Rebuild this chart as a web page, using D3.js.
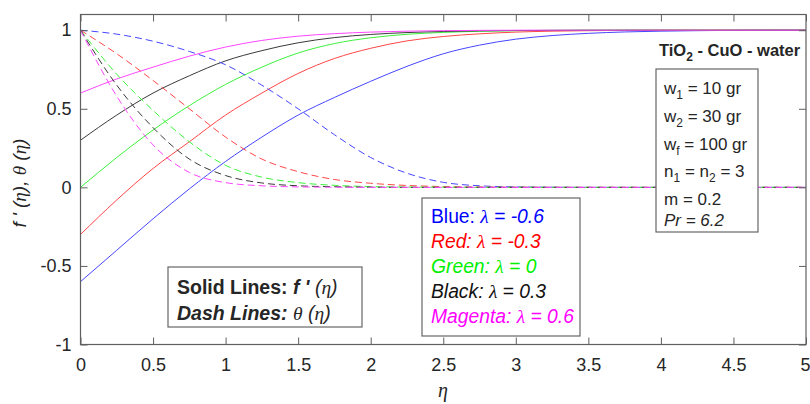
<!DOCTYPE html>
<html>
<head>
<meta charset="utf-8">
<script src="https://cdn.jsdelivr.net/npm/d3@7"></script>
<style>
  body { margin: 0; background: #fff; }
  text { font-family: "Liberation Sans", Arial, sans-serif; fill: #262626; }
  .serif { font-family: "Liberation Serif", "Times New Roman", serif; }
</style>
</head>
<body>
<svg id="chart" width="810" height="404"></svg>
<script>
/* ===============================
   Data
================================ */

const eta = [0, 0.25, 0.5, 0.75, 1, 1.25, 1.5, 1.75, 2, 2.25, 2.5,
             2.75, 3, 3.25, 3.5, 3.75, 4, 4.25, 4.5, 4.75, 5];

// f'(eta), solid lines
const fpBlue    = [-0.6, -0.4, -0.2, -0.01, 0.165, 0.32, 0.46, 0.572, 0.675, 0.77, 0.85, 0.905, 0.943, 0.966, 0.98, 0.989, 0.994, 0.997, 0.999, 1, 1];
const fpRed     = [-0.3, -0.08, 0.12, 0.29, 0.46, 0.6, 0.725, 0.82, 0.885, 0.932, 0.96, 0.977, 0.988, 0.994, 0.997, 0.999, 1, 1, 1, 1, 1];
const fpGreen   = [0, 0.19, 0.365, 0.52, 0.655, 0.765, 0.855, 0.915, 0.952, 0.974, 0.986, 0.993, 0.997, 0.999, 1, 1, 1, 1, 1, 1, 1];
const fpBlack   = [0.3, 0.46, 0.6, 0.71, 0.805, 0.87, 0.92, 0.953, 0.973, 0.985, 0.992, 0.996, 0.998, 0.999, 1, 1, 1, 1, 1, 1, 1];
const fpMagenta = [0.6, 0.69, 0.765, 0.835, 0.893, 0.935, 0.962, 0.978, 0.988, 0.994, 0.997, 0.999, 1, 1, 1, 1, 1, 1, 1, 1, 1];

// theta(eta), dashed lines
const thBlue    = [1, 0.975, 0.93, 0.865, 0.78, 0.65, 0.5, 0.335, 0.19, 0.09, 0.032, 0.01, 0.003, 0.001, 0, 0, 0, 0, 0, 0, 0];
const thRed     = [1, 0.85, 0.68, 0.5, 0.32, 0.18, 0.1, 0.05, 0.026, 0.012, 0.005, 0.002, 0.001, 0, 0, 0, 0, 0, 0, 0, 0];
const thGreen   = [1, 0.72, 0.49, 0.29, 0.14, 0.065, 0.03, 0.013, 0.005, 0.002, 0.001, 0, 0, 0, 0, 0, 0, 0, 0, 0, 0];
const thBlack   = [1, 0.65, 0.38, 0.18, 0.075, 0.028, 0.01, 0.004, 0.001, 0, 0, 0, 0, 0, 0, 0, 0, 0, 0, 0, 0];
const thMagenta = [1, 0.58, 0.27, 0.095, 0.03, 0.01, 0.003, 0.001, 0, 0, 0, 0, 0, 0, 0, 0, 0, 0, 0, 0, 0];

const colorNames = ["Blue", "Red", "Green", "Black", "Magenta"];
const lambdas    = ["-0.6", "-0.3", "0", "0.3", "0.6"];
const lineColors = ["#4646ff", "#ff4646", "#3cf03c", "#3a3a3a", "#ff46ff"];
const textColors = ["#0000ff", "#ff0000", "#00f000", "#111111", "#ff00ff"];

const xTicks = [0, 0.5, 1, 1.5, 2, 2.5, 3, 3.5, 4, 4.5, 5];
const yTicks = [-1, -0.5, 0, 0.5, 1];

const params = [
  { base: "w", sub: "1", rest: " = 10 gr" },
  { base: "w", sub: "2", rest: " = 30 gr" },
  { base: "w", sub: "f", rest: " = 100 gr" },
  { base: "n", sub: "1", rest: " = n", sub2: "2", rest2: " = 3" },
  { base: "m = 0.2" },
  { base: "Pr", rest: " = 6.2", italic: true }
];

const solidSeries = [fpBlue, fpRed, fpGreen, fpBlack, fpMagenta];
const dashSeries  = [thBlue, thRed, thGreen, thBlack, thMagenta];

/* ===============================
   Layout
================================ */

const plot = { left: 80.5, right: 806, top: 14.5, bottom: 344.5 };

const svg = d3.select("#chart");

const x = d3.scaleLinear().domain([0, 5]).range([plot.left, plot.right]);
const y = d3.scaleLinear().domain([-1, 1.1]).range([plot.bottom, plot.top]);

const fmt = d => String(d);   // plain hyphen minus, no trailing zeros

svg.append("defs").append("clipPath").attr("id", "clip")
  .append("rect")
  .attr("x", plot.left).attr("y", plot.top)
  .attr("width", plot.right - plot.left)
  .attr("height", plot.bottom - plot.top);

/* -------- Lines -------- */

const line = d3.line()
  .x((d, i) => x(eta[i]))
  .y(d => y(d))
  .curve(d3.curveMonotoneX);

const lines = svg.append("g").attr("clip-path", "url(#clip)");

solidSeries.forEach((s, i) => {
  lines.append("path")
    .attr("d", line(s))
    .attr("fill", "none")
    .attr("stroke", lineColors[i])
    .attr("stroke-width", 1);
});

dashSeries.forEach((s, i) => {
  lines.append("path")
    .attr("d", line(s))
    .attr("fill", "none")
    .attr("stroke", lineColors[i])
    .attr("stroke-width", 1)
    .attr("stroke-dasharray", "7,4");
});

/* -------- Axes (box with inward ticks) -------- */

const axisColor = "#5f5f5f";
const tickLen = 7;
const labelFont = '"Liberation Sans", Arial, sans-serif';

const axes = svg.append("g");

axes.append("g")
  .attr("transform", `translate(0,${plot.bottom})`)
  .call(d3.axisBottom(x).tickValues(xTicks).tickSizeInner(-tickLen).tickSizeOuter(0)
    .tickPadding(14).tickFormat(fmt))
  .call(g => g.selectAll("text").attr("font-size", 18).attr("fill", "#262626")
    .style("font-family", labelFont))
  // keep the last label inside the window, as in the original
  .call(g => g.selectAll("text").filter(d => d === 5)
    .attr("text-anchor", "end").attr("x", 4));

axes.append("g")
  .attr("transform", `translate(0,${plot.top})`)
  .call(d3.axisTop(x).tickValues(xTicks).tickSizeInner(-tickLen).tickSizeOuter(0).tickFormat(""));

axes.append("g")
  .attr("transform", `translate(${plot.left},0)`)
  .call(d3.axisLeft(y).tickValues(yTicks).tickSizeInner(-tickLen).tickSizeOuter(0)
    .tickPadding(9).tickFormat(fmt))
  .call(g => g.selectAll("text").attr("font-size", 18).attr("fill", "#262626")
    .style("font-family", labelFont));

axes.append("g")
  .attr("transform", `translate(${plot.right},0)`)
  .call(d3.axisRight(y).tickValues(yTicks).tickSizeInner(-tickLen).tickSizeOuter(0).tickFormat(""));

axes.selectAll(".domain").remove();
axes.selectAll(".tick line").attr("stroke", axisColor);

axes.append("rect")
  .attr("x", plot.left).attr("y", plot.top)
  .attr("width", plot.right - plot.left)
  .attr("height", plot.bottom - plot.top)
  .attr("fill", "none")
  .attr("stroke", axisColor)
  .attr("stroke-width", 1.2);

/* -------- Axis labels -------- */

svg.append("text")
  .attr("class", "serif")
  .attr("x", 443).attr("y", 397)
  .attr("text-anchor", "middle")
  .attr("font-size", 20)
  .attr("font-style", "italic")
  .text("η");

const yl = svg.append("text")
  .attr("transform", "translate(26,183) rotate(-90)")
  .attr("text-anchor", "middle")
  .attr("font-size", 19)
  .attr("font-style", "italic");
yl.append("tspan").text("f ' (");
yl.append("tspan").attr("class", "serif").text("η");
yl.append("tspan").text("), ");
yl.append("tspan").attr("class", "serif").text("θ");
yl.append("tspan").text(" (");
yl.append("tspan").attr("class", "serif").text("η");
yl.append("tspan").text(")");

/* ===============================
   Legend boxes
================================ */

function box(x0, y0, w, h) {
  svg.append("rect")
    .attr("x", x0).attr("y", y0)
    .attr("width", w).attr("height", h)
    .attr("fill", "#fff")
    .attr("stroke", "#666")
    .attr("stroke-width", 1.2);
}

/* -------- Solid / Dash box -------- */

box(168, 267, 194, 60);

const s1 = svg.append("text").attr("x", 177).attr("y", 294).attr("font-size", 19.5);
s1.append("tspan").attr("font-weight", "bold").text("Solid Lines: ");
s1.append("tspan").attr("font-weight", "bold").attr("font-style", "italic").text("f ' ");
s1.append("tspan").attr("font-style", "italic").text("(");
s1.append("tspan").attr("class", "serif").attr("font-style", "italic").text("η");
s1.append("tspan").attr("font-style", "italic").text(")");

const s2 = svg.append("text").attr("x", 177).attr("y", 320).attr("font-size", 19.5);
s2.append("tspan").attr("font-weight", "bold").attr("font-style", "italic").text("Dash Lines: ");
s2.append("tspan").attr("class", "serif").attr("font-style", "italic").text("θ");
s2.append("tspan").attr("font-style", "italic").text(" (");
s2.append("tspan").attr("class", "serif").attr("font-style", "italic").text("η");
s2.append("tspan").attr("font-style", "italic").text(")");

/* -------- Lambda box -------- */

box(422, 198, 158, 138);

colorNames.forEach((name, i) => {
  const t = svg.append("text")
    .attr("x", 431).attr("y", 223 + i * 25)
    .attr("font-size", 19.3)
    .style("fill", textColors[i]);
  t.append("tspan").attr("font-style", i === 0 ? "normal" : "italic").text(name + ": ");
  t.append("tspan").attr("class", "serif").attr("font-style", "italic").text("λ");
  t.append("tspan").attr("font-style", "italic").text(" = " + lambdas[i]);
});

/* -------- Parameter box -------- */

const title = svg.append("text").attr("x", 659).attr("y", 56)
  .attr("font-size", 16.5).attr("font-weight", "bold");
title.append("tspan").text("TiO");
title.append("tspan").attr("font-size", 12).attr("dy", 5).text("2");
title.append("tspan").attr("dy", -5).text(" - CuO - water");

box(656, 69, 102, 163);

const paramY = [94, 122, 150, 177, 205, 226];

params.forEach((p, i) => {
  const t = svg.append("text").attr("x", 664).attr("y", paramY[i]).attr("font-size", 17);
  t.append("tspan").attr("font-style", p.italic ? "italic" : "normal").text(p.base);
  if (p.sub) t.append("tspan").attr("font-size", 12).attr("dy", 5).text(p.sub);
  if (p.rest) t.append("tspan").attr("font-style", p.italic ? "italic" : "normal")
    .attr("dy", p.sub ? -5 : 0).text(p.rest);
  if (p.sub2) t.append("tspan").attr("font-size", 12).attr("dy", 5).text(p.sub2);
  if (p.rest2) t.append("tspan").attr("dy", -5).text(p.rest2);
});
</script>
</body>
</html>
